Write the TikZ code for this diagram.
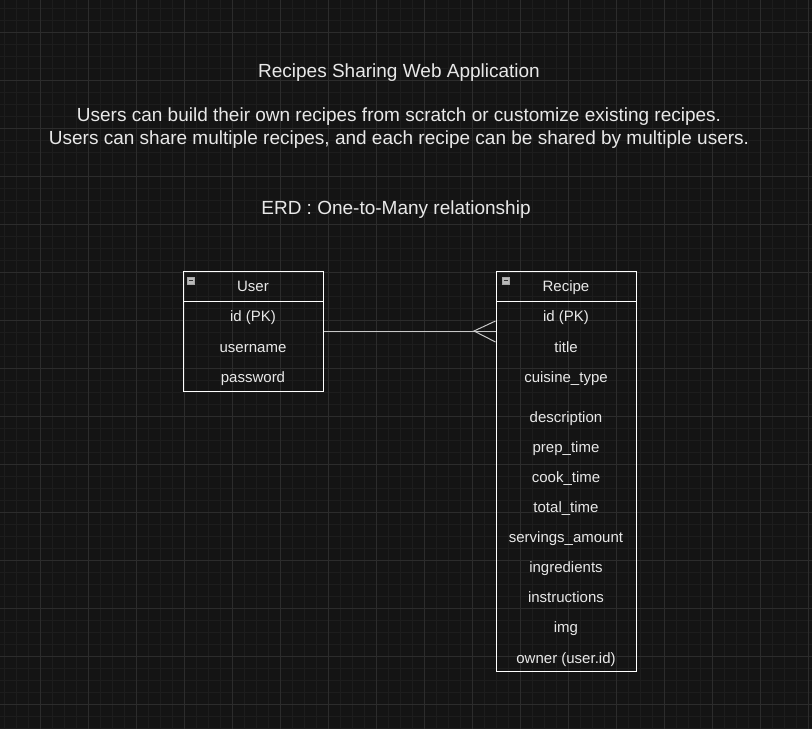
\documentclass[tikz,border=0pt]{standalone}
\usepackage{fontspec}
\setmainfont{Liberation Sans}
\definecolor{canvas}{RGB}{20,20,20}
\definecolor{gridminor}{RGB}{29,29,29}
\definecolor{gridmajor}{RGB}{44,44,44}
\definecolor{inktext}{RGB}{232,232,232}
\definecolor{linkgray}{RGB}{200,200,200}
\tikzset{
  minorline/.style={gridminor, line width=0.8pt},
  majorline/.style={gridmajor, line width=1pt},
  entity/.style={draw=white, line width=1pt, inner sep=0pt, minimum width=140pt},
  header/.style={text=inktext, font=\fontsize{15}{18}\selectfont, inner sep=0pt,
    text height=10.7pt, text depth=3.1pt, yshift=-2pt},
  field/.style={text=inktext, font=\fontsize{15}{18}\selectfont, inner sep=0pt,
    text height=10.7pt, text depth=3.1pt, yshift=-2pt},
  caption/.style={text=inktext, font=\fontsize{19}{23}\selectfont, inner sep=0pt,
    text height=13.6pt, text depth=4pt, yshift=-2pt},
  link/.style={linkgray, line width=1pt},
  foldbox/.style={draw=gray!70, fill=gray!55, minimum size=7.5pt, inner sep=0pt, line width=0.5pt},
}
\begin{document}
\begin{tikzpicture}[x=1pt, y=-1pt]
  \useasboundingbox (0,0) rectangle (812,729);
  \fill[canvas] (0,0) rectangle (812,729);
  % background grid
  \foreach \x in {4,16,...,808} \draw[minorline] (\x,0) -- (\x,729);
  \foreach \y in {8,20,...,728} \draw[minorline] (0,\y) -- (812,\y);
  \foreach \x in {40,88,...,808} \draw[majorline] (\x,0) -- (\x,729);
  \foreach \y in {32,80,...,728} \draw[majorline] (0,\y) -- (812,\y);

  % captions
  \node[caption] (title) at (399,71) {Recipes Sharing Web Application};
  \node[caption] (line1) at (399,115) {Users can build their own recipes from scratch or customize existing recipes.};
  \node[caption] (line2) at (399,138) {Users can share multiple recipes, and each recipe can be shared by multiple users.};
  \node[caption] (erd) at (396,208) {ERD : One-to-Many relationship};

  % User entity
  \node[entity, minimum height=120pt] (user) at (253,331) {};
  \draw[white, line width=1pt] (183,301) -- (323,301);
  \node[foldbox] (userfold) at (190.5,280.5) {};
  \draw[black!80, line width=0.8pt] (188.5,280.5) -- (192.5,280.5);
  \node[header] (usertitle) at (253,286) {User};
  \node[field] (userid) at (253,316) {id (PK)};
  \node[field] (username) at (253,347) {username};
  \node[field] (userpass) at (253,377) {password};

  % Recipe entity
  \node[entity, minimum height=400pt] (recipe) at (566,471) {};
  \draw[white, line width=1pt] (496,301) -- (636,301);
  \node[foldbox] (recipefold) at (505.5,280.5) {};
  \draw[black!80, line width=0.8pt] (503.5,280.5) -- (507.5,280.5);
  \node[header] (recipetitle) at (566,286) {Recipe};
  \foreach \name/\y [count=\i] in {id (PK)/316, title/347, cuisine\_type/377,
      description/417, prep\_time/447, cook\_time/477, total\_time/507,
      servings\_amount/537, ingredients/567, instructions/597, img/627,
      owner (user.id)/658}
    \node[field] (recipe\i) at (566,\y) {\name};

  % one-to-many connector
  \coordinate (fork) at (474,331);
  \draw[link] (user.east |- fork) -- (recipe.west |- fork);
  \draw[link] (recipe.west |- 0,321) -- (fork) -- (recipe.west |- 0,342);
\end{tikzpicture}
\end{document}
